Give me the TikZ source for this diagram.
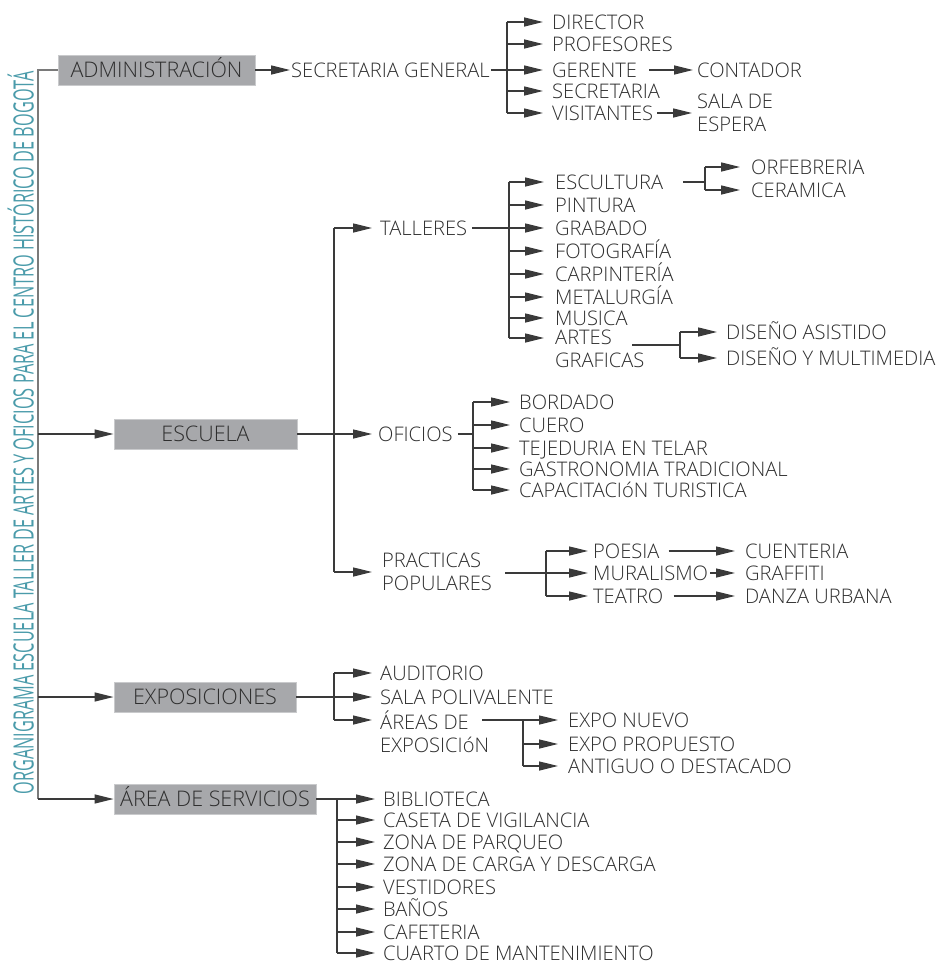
\documentclass[tikz,border=0pt]{standalone}
\usepackage{fontspec}
\setmainfont{Open Sans}[UprightFont={* Light}]
\newfontfamily\titlefont{Open Sans}
\usepackage{graphicx}
\usetikzlibrary{arrows.meta}
\definecolor{txt}{HTML}{2E2E2E}
\definecolor{lnc}{HTML}{3A3A3A}
\definecolor{boxg}{HTML}{A7A8AB}
\definecolor{boxe}{HTML}{C9CACC}
\definecolor{ttl}{HTML}{4A9BAA}
\definecolor{trk}{HTML}{7A7A7A}
\newcommand\myitemfont{\fontsize{20.1}{23}\selectfont}
\newcommand\myboxfont{\fontsize{21.5}{24}\selectfont}
\tikzset{
  itm/.style={anchor=west, inner sep=0pt, text height=14.3pt, text depth=0pt, font=\myitemfont, text=txt},
  two/.style={anchor=west, inner sep=0pt, align=left, font=\myitemfont, text=txt},
  bx/.style={fill=boxg, draw=boxe, line width=0.8pt, inner sep=0pt, minimum height=30pt, text height=15.3pt, text depth=0pt, font=\myboxfont, text=txt},
  ln/.style={line width=1.3pt, draw=lnc},
  arr/.style={ln, -{Triangle[length=19pt,width=9pt]}},
  trunk/.style={line width=2pt, draw=trk},
}
\begin{document}
\begin{tikzpicture}[x=1pt,y=-1pt]
\useasboundingbox (0,0) rectangle (937,964);

% title
\node[rotate=90, text=ttl, inner sep=0pt, text height=20pt, text depth=0pt] (title) at (23.5,433)
  {\resizebox{723pt}{\height}{\titlefont\fontsize{28}{28}\selectfont ORGANIGRAMA ESCUELA TALLER DE ARTES Y OFICIOS PARA EL CENTRO HISTÓRICO DE BOGOTÁ}};

% main boxes
\node[bx, minimum width=197pt] (admin) at (156.5,70) {ADMINISTRACIÓN};
\node[bx, minimum width=183pt] (esc) at (205.5,434) {ESCUELA};
\node[bx, minimum width=182pt] (expo) at (205,697) {EXPOSICIONES};
\node[bx, minimum width=202pt] (serv) at (215,799) {ÁREA DE SERVICIOS};

% trunk
\coordinate (tr) at (38,70);
\draw[trunk] (admin.west) -- (tr) -- (tr |- serv.west);
\draw[arr] (tr |- esc.west) -- (esc.west);
\draw[arr] (tr |- expo.west) -- (expo.west);
\draw[arr] (tr |- serv.west) -- (serv.west);

% ===== ADMINISTRACION =====
\node[itm] (sgen) at (291,70) {SECRETARIA GENERAL};
\draw[arr] (admin.east) -- ([xshift=-1pt]sgen.west);
\coordinate (jA) at (507,70);
\node[itm] (dir) at (552,22) {DIRECTOR};
\node[itm] (prof) at (552,44) {PROFESORES};
\node[itm] (ger) at (552,70) {GERENTE};
\node[itm] (sec) at (552,91) {SECRETARIA};
\node[itm] (vis) at (552,113) {VISITANTES};
\draw[ln] ([xshift=1pt]sgen.east) -- (jA);
\draw[ln] (jA |- dir.west) -- (jA |- vis.west);
\foreach \n in {dir,prof,ger,sec,vis} \draw[arr] (jA |- \n.west) -- ([xshift=-9pt]\n.west);
\node[itm] (cont) at (697,70) {CONTADOR};
\draw[arr] ([xshift=12pt]ger.east) -- ([xshift=-4pt]cont.west);
\node[two] (sala) at (697,113) {SALA DE\\ESPERA};
\draw[arr] ([xshift=4pt]vis.east) -- ([xshift=-5pt]sala.west);

% ===== ESCUELA =====
\coordinate (jE) at (334,434);
\node[itm] (tall) at (380,228) {TALLERES};
\node[itm] (ofi) at (378,434) {OFICIOS};
\node[two] (prac) at (382,572) {PRACTICAS\\POPULARES};
\draw[arr] (esc.east) -- ([xshift=-6pt]ofi.west);
\draw[ln] (jE |- tall.west) -- (jE |- prac.west);
\draw[arr] (jE |- tall.west) -- ([xshift=-8pt]tall.west);
\draw[arr] (jE |- prac.west) -- ([xshift=-10pt]prac.west);

% talleres
\coordinate (jT) at (509,228);
\node[itm] (escu) at (555,182) {ESCULTURA};
\node[itm] (pint) at (555,205) {PINTURA};
\node[itm] (grab) at (555,228) {GRABADO};
\node[itm] (foto) at (555,251) {FOTOGRAFÍA};
\node[itm] (carp) at (555,274) {CARPINTERÍA};
\node[itm] (meta) at (555,297) {METALURGÍA};
\node[itm] (musi) at (555,318) {MUSICA};
\node[two] (artes) at (555,349) {ARTES\\GRAFICAS};
\coordinate (artesln) at (555,338);
\draw[ln] ([xshift=5pt]tall.east) -- (jT);
\draw[ln] (jT |- escu.west) -- (jT |- artesln);
\foreach \n in {escu,pint,grab,foto,carp,meta,musi} \draw[arr] (jT |- \n.west) -- ([xshift=-11pt]\n.west);
\draw[arr] (jT |- artesln) -- ([xshift=-11pt]artesln);

\coordinate (jS) at (705,182);
\node[itm] (orfe) at (751,167) {ORFEBRERIA};
\node[itm] (cera) at (751,190) {CERAMICA};
\draw[ln] ([xshift=20pt]escu.east) -- (jS);
\draw[ln] (jS |- orfe.west) -- (jS |- cera.west);
\draw[arr] (jS |- orfe.west) -- ([xshift=-11pt]orfe.west);
\draw[arr] (jS |- cera.west) -- ([xshift=-11pt]cera.west);

\coordinate (ags) at (632,345);
\coordinate (jG) at (680,345);
\node[itm] (dasi) at (726,332) {DISEÑO ASISTIDO};
\node[itm] (dmul) at (726,358) {DISEÑO Y MULTIMEDIA};
\draw[ln] (ags) -- (jG);
\draw[ln] (jG |- dasi.west) -- (jG |- dmul.west);
\draw[arr] (jG |- dasi.west) -- ([xshift=-9pt]dasi.west);
\draw[arr] (jG |- dmul.west) -- ([xshift=-9pt]dmul.west);

% oficios
\coordinate (jO) at (473,434);
\node[itm] (bord) at (519,402) {BORDADO};
\node[itm] (cuer) at (519,425) {CUERO};
\node[itm] (teje) at (519,448) {TEJEDURIA EN TELAR};
\node[itm] (gast) at (519,469) {GASTRONOMIA TRADICIONAL};
\node[itm] (capa) at (519,490) {CAPACITACIóN TURISTICA};
\draw[ln] ([xshift=5pt]ofi.east) -- (jO);
\draw[ln] (jO |- bord.west) -- (jO |- capa.west);
\foreach \n in {bord,cuer,teje,gast,capa} \draw[arr] (jO |- \n.west) -- ([xshift=-9pt]\n.west);

% practicas populares
\coordinate (jP) at (546,573);
\node[itm] (poes) at (593,551) {POESIA};
\node[itm] (mura) at (593,573) {MURALISMO};
\node[itm] (teat) at (593,596) {TEATRO};
\draw[ln] ([xshift=13pt]prac.east |- jP) -- (jP);
\draw[ln] (jP |- poes.west) -- (jP |- teat.west);
\foreach \n in {poes,mura,teat} \draw[arr] (jP |- \n.west) -- ([xshift=-5pt]\n.west);
\node[itm] (cuen) at (745,551) {CUENTERIA};
\node[itm] (graf) at (745,573) {GRAFFITI};
\node[itm] (danz) at (745,596) {DANZA URBANA};
\draw[arr] ([xshift=9pt]poes.east) -- ([xshift=-10pt]cuen.west);
\draw[arr] ([xshift=2pt]mura.east) -- ([xshift=-10pt]graf.west);
\draw[arr] ([xshift=10pt]teat.east) -- ([xshift=-10pt]danz.west);

% ===== EXPOSICIONES =====
\coordinate (jX) at (334,697);
\node[itm] (audi) at (380,673) {AUDITORIO};
\node[itm] (salp) at (380,697) {SALA POLIVALENTE};
\node[two] (area) at (380,732) {ÁREAS DE\\EXPOSICIóN};
\coordinate (arealn) at (380,720);
\draw[arr] (expo.east) -- ([xshift=-8pt]salp.west);
\draw[ln] (jX |- audi.west) -- (jX |- arealn);
\draw[arr] (jX |- audi.west) -- ([xshift=-8pt]audi.west);
\draw[arr] (jX |- arealn) -- ([xshift=-8pt]arealn);

\coordinate (ars) at (482,720);
\coordinate (jR) at (523,720);
\node[itm] (enue) at (568,720) {EXPO NUEVO};
\node[itm] (epro) at (568,744) {EXPO PROPUESTO};
\node[itm] (anti) at (568,766) {ANTIGUO O DESTACADO};
\draw[arr] (ars) -- ([xshift=-10pt]enue.west);
\draw[ln] (jR) -- (jR |- anti.west);
\draw[arr] (jR |- epro.west) -- ([xshift=-10pt]epro.west);
\draw[arr] (jR |- anti.west) -- ([xshift=-10pt]anti.west);

% ===== SERVICIOS =====
\coordinate (jV) at (337,799);
\node[itm] (bibl) at (383,799) {BIBLIOTECA};
\node[itm] (case) at (383,820) {CASETA DE VIGILANCIA};
\node[itm] (parq) at (383,842) {ZONA DE PARQUEO};
\node[itm] (carg) at (383,864) {ZONA DE CARGA Y DESCARGA};
\node[itm] (vest) at (383,887) {VESTIDORES};
\node[itm] (bano) at (383,909) {BAÑOS};
\node[itm] (cafe) at (383,932) {CAFETERIA};
\node[itm] (cuar) at (383,953) {CUARTO DE MANTENIMIENTO};
\draw[ln] (serv.east) -- (jV);
\draw[ln] (jV) -- (jV |- cuar.west);
\foreach \n in {bibl,case,parq,carg,vest,bano,cafe,cuar} \draw[arr] (jV |- \n.west) -- ([xshift=-8pt]\n.west);
\end{tikzpicture}
\end{document}
